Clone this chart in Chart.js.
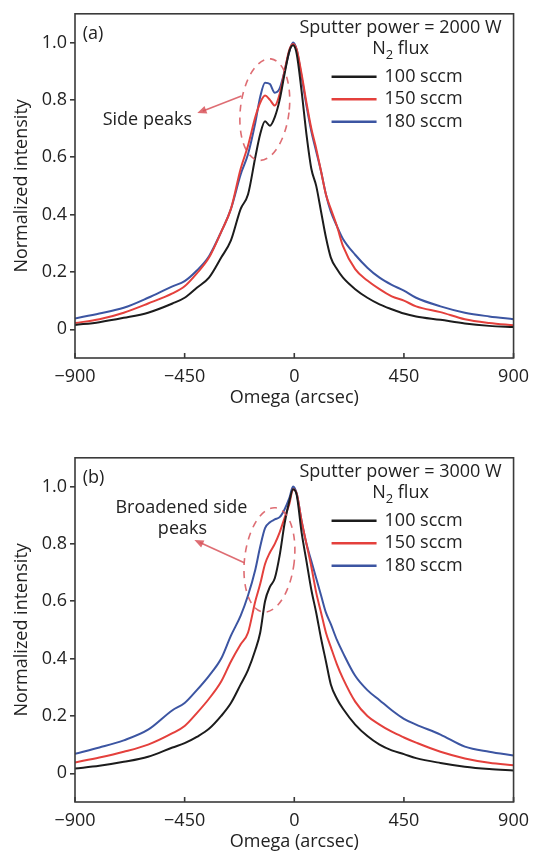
<!DOCTYPE html>
<html>
<head>
<meta charset="utf-8">
<script src="https://cdn.jsdelivr.net/npm/chart.js@4.4.1/dist/chart.umd.min.js"></script>
<style>
  html, body { margin: 0; padding: 0; background: #fff; overflow: hidden; }
  canvas { position: absolute; left: 0; }
  #chartA { top: 0; }
  #chartB { top: 444px; }
</style>
</head>
<body>
<canvas id="chartA" width="537" height="411"></canvas>
<canvas id="chartB" width="537" height="411"></canvas>
<script>
// Omega positions (arcsec) shared by every curve
const omega = [-900, -800, -700, -600, -500, -450, -400, -350, -300, -260, -220, -190, -160, -140, -120, -100, -80, -60, -40, -20, -5,
               10, 30, 50, 70, 90, 110, 130, 150, 175, 200, 250, 300, 350, 400, 450, 500, 600, 700, 800, 900];

const seriesNames = ["100 sccm", "150 sccm", "180 sccm"];
const seriesColors = ["#1c1c1c", "#e4403c", "#3c55a2"];

// (a) sputter power 2000 W
const a100 = [0.015, 0.025, 0.04, 0.058, 0.09, 0.11, 0.145, 0.18, 0.25, 0.31, 0.42, 0.47, 0.60, 0.68, 0.725, 0.71, 0.74, 0.80, 0.89, 0.97, 0.99,
              0.96, 0.83, 0.68, 0.56, 0.50, 0.41, 0.32, 0.25, 0.21, 0.18, 0.14, 0.11, 0.087, 0.07, 0.055, 0.045, 0.033, 0.02, 0.012, 0.008];
const a150 = [0.022, 0.035, 0.058, 0.09, 0.125, 0.15, 0.195, 0.25, 0.34, 0.42, 0.56, 0.64, 0.74, 0.79, 0.815, 0.80, 0.78, 0.82, 0.90, 0.975, 0.995,
              0.975, 0.89, 0.79, 0.70, 0.63, 0.55, 0.47, 0.42, 0.36, 0.29, 0.21, 0.17, 0.14, 0.115, 0.10, 0.08, 0.06, 0.035, 0.022, 0.014];
const a180 = [0.038, 0.055, 0.075, 0.11, 0.15, 0.168, 0.205, 0.255, 0.34, 0.42, 0.54, 0.61, 0.72, 0.81, 0.86, 0.855, 0.825, 0.84, 0.90, 0.97, 1.0,
              0.975, 0.88, 0.78, 0.69, 0.62, 0.55, 0.47, 0.41, 0.36, 0.315, 0.26, 0.215, 0.18, 0.155, 0.135, 0.11, 0.08, 0.058, 0.045, 0.035];

// (b) sputter power 3000 W
const b100 = [0.017, 0.026, 0.04, 0.058, 0.09, 0.105, 0.127, 0.155, 0.20, 0.245, 0.31, 0.36, 0.43, 0.49, 0.60, 0.65, 0.68, 0.76, 0.87, 0.95, 0.99,
              0.97, 0.84, 0.74, 0.64, 0.56, 0.47, 0.39, 0.31, 0.26, 0.225, 0.17, 0.13, 0.10, 0.08, 0.067, 0.053, 0.036, 0.023, 0.015, 0.01];
const b150 = [0.038, 0.055, 0.075, 0.10, 0.14, 0.165, 0.21, 0.26, 0.32, 0.39, 0.45, 0.49, 0.60, 0.66, 0.73, 0.77, 0.80, 0.84, 0.89, 0.94, 0.99,
              0.975, 0.88, 0.80, 0.72, 0.63, 0.56, 0.49, 0.44, 0.38, 0.33, 0.25, 0.20, 0.17, 0.145, 0.125, 0.107, 0.075, 0.052, 0.037, 0.028];
const b180 = [0.068, 0.09, 0.115, 0.152, 0.22, 0.245, 0.29, 0.34, 0.40, 0.48, 0.55, 0.62, 0.71, 0.79, 0.855, 0.875, 0.885, 0.893, 0.92, 0.96, 1.0,
              0.975, 0.88, 0.80, 0.74, 0.68, 0.62, 0.56, 0.52, 0.465, 0.42, 0.34, 0.29, 0.255, 0.22, 0.19, 0.17, 0.135, 0.093, 0.075, 0.062];

const xTicks = [-900, -450, 0, 450, 900];
const yTicks = [0, 0.2, 0.4, 0.6, 0.8, 1.0];

const FONT = "'Open Sans', sans-serif";
const INK = "#222";
const NOTE = "#d8545a";

Chart.defaults.font.family = FONT;
Chart.defaults.font.size = 18;
Chart.defaults.color = INK;

function fmtX(v) {
    return v < 0 ? "\u2212" + Math.abs(v) : String(v);
}

// frame box, inward x ticks, legend and the dashed notes
const decorations = {
    id: "decorations",
    afterDatasetsDraw(chart, args, opts) {
        const { ctx, chartArea: a, scales: { x, y } } = chart;
        ctx.save();

        // dashed ellipse round the side peaks
        const e = opts.ellipse;
        const cx = x.getPixelForValue(e.x), cy = y.getPixelForValue(e.y);
        const rx = Math.abs(x.getPixelForValue(e.x + e.rx) - cx);
        const ry = Math.abs(y.getPixelForValue(e.y + e.ry) - cy);
        ctx.strokeStyle = NOTE;
        ctx.globalAlpha = 0.85;
        ctx.lineWidth = 1.6;
        ctx.setLineDash([7, 6]);
        ctx.beginPath();
        ctx.ellipse(cx, cy, rx, ry, e.rot, 0, Math.PI * 2);
        ctx.stroke();
        ctx.setLineDash([]);

        // arrow
        const ar = opts.arrow;
        const x1 = x.getPixelForValue(ar.from[0]), y1 = y.getPixelForValue(ar.from[1]);
        const x2 = x.getPixelForValue(ar.to[0]), y2 = y.getPixelForValue(ar.to[1]);
        const ang = Math.atan2(y2 - y1, x2 - x1);
        ctx.fillStyle = NOTE;
        ctx.beginPath();
        ctx.moveTo(x1, y1);
        ctx.lineTo(x2 - 6 * Math.cos(ang), y2 - 6 * Math.sin(ang));
        ctx.stroke();
        ctx.beginPath();
        ctx.moveTo(x2, y2);
        ctx.lineTo(x2 - 10 * Math.cos(ang - 0.4), y2 - 10 * Math.sin(ang - 0.4));
        ctx.lineTo(x2 - 10 * Math.cos(ang + 0.4), y2 - 10 * Math.sin(ang + 0.4));
        ctx.closePath();
        ctx.fill();
        ctx.globalAlpha = 1;

        // note texts
        ctx.fillStyle = INK;
        ctx.font = "18px " + FONT;
        ctx.textBaseline = "middle";
        opts.texts.forEach(t => {
            ctx.textAlign = t.align || "center";
            ctx.fillText(t.text, x.getPixelForValue(t.x), y.getPixelForValue(t.y));
        });

        // box round the plot
        ctx.strokeStyle = "#3a3a3a";
        ctx.lineWidth = 1.6;
        ctx.strokeRect(a.left, a.top, a.right - a.left, a.bottom - a.top);
        xTicks.forEach(v => {
            const px = x.getPixelForValue(v);
            ctx.beginPath();
            ctx.moveTo(px, a.bottom);
            ctx.lineTo(px, a.bottom - 5);
            ctx.stroke();
        });

        // legend
        const tx = a.right - 113;
        ctx.fillStyle = INK;
        ctx.textAlign = "center";
        ctx.fillText(opts.title, tx, a.top + 14);
        const wN = ctx.measureText("N").width;
        const wF = ctx.measureText(" flux").width;
        ctx.font = "13px " + FONT;
        const w2 = ctx.measureText("2").width;
        const sx = tx - (wN + w2 + wF) / 2;
        ctx.textAlign = "left";
        ctx.font = "18px " + FONT;
        ctx.fillText("N", sx, a.top + 35);
        ctx.font = "13px " + FONT;
        ctx.fillText("2", sx + wN, a.top + 41);
        ctx.font = "18px " + FONT;
        ctx.fillText(" flux", sx + wN + w2, a.top + 35);

        chart.data.datasets.forEach((ds, i) => {
            const ly = a.top + 63 + i * 22.5;
            ctx.strokeStyle = ds.borderColor;
            ctx.lineWidth = 2.5;
            ctx.beginPath();
            ctx.moveTo(a.right - 182, ly);
            ctx.lineTo(a.right - 137, ly);
            ctx.stroke();
            ctx.fillStyle = INK;
            ctx.fillText(ds.label, a.right - 129, ly);
        });
        ctx.restore();
    }
};

function makeChart(id, series, notes) {
    const datasets = series.map((vals, i) => ({
        label: seriesNames[i],
        data: omega.map((o, k) => ({ x: o, y: vals[k] })),
        borderColor: seriesColors[i],
        borderWidth: 2,
        pointRadius: 0,
        cubicInterpolationMode: "monotone",
        fill: false
    }));
    return new Chart(document.getElementById(id), {
        type: "line",
        data: { datasets },
        plugins: [decorations],
        options: {
            responsive: false,
            animation: false,
            layout: { padding: { top: 11, right: 23, left: 0, bottom: 0 } },
            plugins: {
                legend: { display: false },
                tooltip: { enabled: false },
                decorations: notes
            },
            scales: {
                x: {
                    type: "linear",
                    min: -900,
                    max: 900,
                    afterBuildTicks: s => { s.ticks = xTicks.map(v => ({ value: v })); },
                    afterFit: s => { s.height = 53; },
                    ticks: { callback: v => fmtX(v), padding: 8, maxRotation: 0, color: INK },
                    grid: { display: false, drawTicks: false },
                    border: { display: false },
                    title: { display: true, text: "Omega (arcsec)", padding: { top: 3, bottom: 2 }, color: INK }
                },
                y: {
                    min: -0.1,
                    max: 1.1,
                    afterBuildTicks: s => { s.ticks = yTicks.map(v => ({ value: v })); },
                    afterFit: s => { s.width = 75; },
                    ticks: { callback: v => (v === 0 ? "0" : v.toFixed(1)), padding: 3, color: INK },
                    grid: { drawOnChartArea: false, drawTicks: true, tickLength: 5, color: "#3a3a3a", lineWidth: 1.6 },
                    border: { display: false },
                    title: { display: true, text: "Normalized intensity", padding: { top: 11, bottom: 0 }, color: INK }
                }
            }
        }
    });
}

makeChart("chartA", [a100, a150, a180], {
    title: "Sputter power = 2000 W",
    ellipse: { x: -121, y: 0.766, rx: 100, ry: 0.178, rot: 0.12 },
    arrow: { from: [-217, 0.813], to: [-398, 0.754] },
    texts: [
        { text: "(a)", x: -868, y: 1.03, align: "left" },
        { text: "Side peaks", x: -603, y: 0.73 }
    ]
});

makeChart("chartB", [b100, b150, b180], {
    title: "Sputter power = 3000 W",
    ellipse: { x: -102, y: 0.744, rx: 102, ry: 0.183, rot: 0.12 },
    arrow: { from: [-205, 0.734], to: [-410, 0.813] },
    texts: [
        { text: "(b)", x: -868, y: 1.03, align: "left" },
        { text: "Broadened side", x: -463, y: 0.924 },
        { text: "peaks", x: -459, y: 0.851 }
    ]
});
</script>
</body>
</html>
